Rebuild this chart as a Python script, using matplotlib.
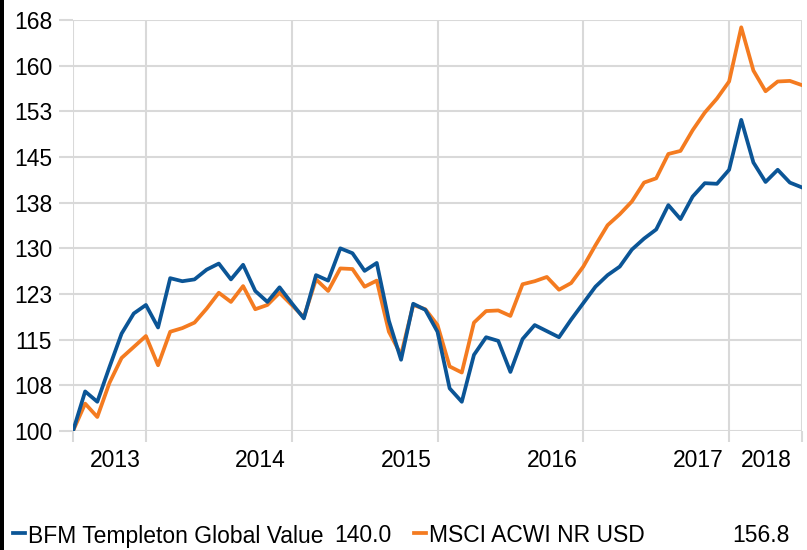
import math
import matplotlib
matplotlib.use("Agg")
import matplotlib.pyplot as plt
from matplotlib.lines import Line2D
from matplotlib.patches import Rectangle
from matplotlib.ticker import FuncFormatter, FixedLocator

plt.rcParams['font.family'] = ['Liberation Sans', 'DejaVu Sans']

# Monthly index values (61 points, mid-2012 .. mid-2018)
bfm = [100.0, 106.5, 104.8, 110.5, 116.0, 119.3, 120.7, 117.0, 125.1, 124.6,
       124.9, 126.5, 127.5, 124.9, 127.3, 123.0, 121.2, 123.6, 121.0, 118.5,
       125.6, 124.7, 130.0, 129.2, 126.3, 127.6, 118.1, 111.7, 120.9, 119.9,
       116.3, 107.0, 104.8, 112.5, 115.4, 114.8, 109.7, 115.1, 117.4, 116.4,
       115.4, 118.3, 121.0, 123.7, 125.6, 127.0, 129.8, 131.6, 133.1, 137.1,
       134.8, 138.5, 140.7, 140.6, 142.9, 151.1, 144.1, 140.9, 142.9, 140.8,
       140.0]
msci = [100.0, 104.5, 102.3, 107.9, 112.0, 113.8, 115.6, 110.8, 116.3, 116.9,
        117.8, 120.1, 122.7, 121.2, 123.8, 120.0, 120.7, 122.7, 120.7, 118.7,
        124.9, 123.0, 126.7, 126.6, 123.7, 124.7, 116.3, 112.5, 120.7, 120.0,
        117.4, 110.6, 109.6, 117.8, 119.7, 119.8, 118.9, 124.1, 124.6, 125.3,
        123.2, 124.3, 127.0, 130.5, 133.8, 135.6, 137.7, 140.8, 141.5, 145.5,
        146.0, 149.4, 152.3, 154.6, 157.4, 166.3, 159.2, 155.8, 157.4, 157.5,
        156.8]
months = list(range(len(bfm)))

series_names = ["BFM Templeton Global Value", "MSCI ACWI NR USD"]
last_values = ["140.0", "156.8"]

year_grid = [0, 6, 18, 30, 42, 54, 60]
year_label_pos = [3.45, 15.45, 27.45, 39.45, 51.45, 57.05]
year_labels = ["2013", "2014", "2015", "2016", "2017", "2018"]
y_ticks = [100 + 7.5 * k for k in range(10)]

BLUE = "#0b5596"
ORANGE = "#f47b20"
GRID = "#d9d9d9"
FS = 16.5

fig = plt.figure(figsize=(8.07, 5.5), dpi=100)
W, H = 807, 550
ax = fig.add_axes([73 / W, (H - 431) / H, (802 - 73) / W, 411 / H])

ax.plot(months, msci, color=ORANGE, lw=2.7, zorder=3)
ax.plot(months, bfm, color=BLUE, lw=2.7, zorder=4)

ax.set_xlim(0, 60)
ax.set_ylim(100, 167.5)

for s in ax.spines.values():
    s.set_visible(False)

ax.set_yticks(y_ticks)
ax.yaxis.set_major_formatter(FuncFormatter(lambda v, p: str(int(math.floor(v + 0.5)))))
ax.xaxis.set_major_locator(FixedLocator(year_grid))
ax.xaxis.set_major_formatter(FuncFormatter(lambda v, p: ""))
ax.xaxis.set_minor_locator(FixedLocator(year_label_pos))
ax.set_xticklabels(year_labels, minor=True)

ax.grid(True, which='major', color=GRID, lw=1.5, zorder=0)
ax.set_axisbelow(True)
ax.tick_params(axis='y', which='major', length=10, width=1.5, color=GRID,
               labelsize=FS, pad=5, labelcolor='black')
ax.tick_params(axis='x', which='major', length=8, width=1.5, color=GRID)
ax.tick_params(axis='x', which='minor', length=0, labelsize=FS, pad=13,
               labelcolor='black')

# left black border
fig.patches.append(Rectangle((0, 0), 4 / W, 1, transform=fig.transFigure,
                             facecolor='black', edgecolor='none'))

# legend row
ly = (H - 536) / H
def yfig(px):
    return (H - px) / H
fig.add_artist(Line2D([13 / W, 25 / W], [yfig(533), yfig(533)], color=BLUE, lw=2.7))
fig.text(28 / W, ly, series_names[0], fontsize=FS, va='center', ha='left')
fig.text(391 / W, ly, last_values[0], fontsize=FS, va='center', ha='right')
fig.add_artist(Line2D([414 / W, 426 / W], [yfig(533), yfig(533)], color=ORANGE, lw=2.7))
fig.text(429 / W, ly, series_names[1], fontsize=FS, va='center', ha='left')
fig.text(790 / W, ly, last_values[1], fontsize=FS, va='center', ha='right')

fig.savefig("out.png", dpi=100)
